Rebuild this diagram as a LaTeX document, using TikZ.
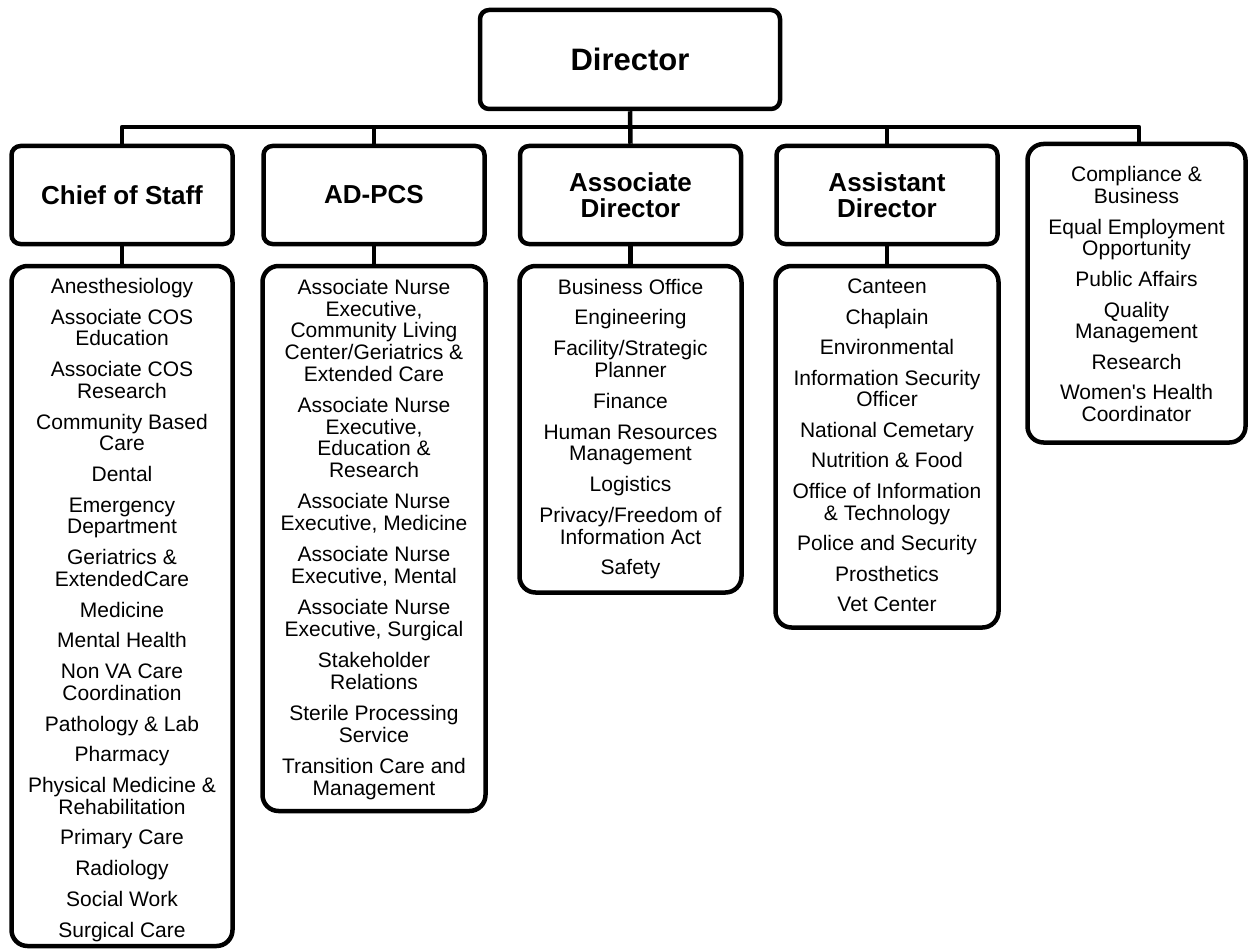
\documentclass[tikz,border=0pt]{standalone}
\usepackage{fontspec}
\setmainfont{Liberation Sans}
\newfontfamily\straightfont{Liberation Sans}
\begin{document}
\begin{tikzpicture}[x=1pt,y=-1pt,
  box/.style={draw, line width=4.5pt, rounded corners=9pt, inner sep=0pt, align=center},
  hdr/.style={box, minimum width=221pt, minimum height=98pt, font=\fontsize{26}{25.7}\selectfont\bfseries},
  lstbox/.style={draw, line width=4.5pt, rounded corners=16pt, inner sep=0pt},
  txt/.style={inner sep=0pt, anchor=base, font=\fontsize{21}{21.7}\selectfont},
  conn/.style={line width=4.5pt, line join=round}]
\useasboundingbox (0,0) rectangle (1249,952);

% top
\node[box, minimum width=300pt, minimum height=99pt, font=\fontsize{31}{32}\selectfont\bfseries] (dir) at (630,59.5) {Director};

% headers
\node[hdr] (cos) at (122,195) {Chief of Staff};
\node[hdr] (adpcs) at (374,195) {AD-PCS};
\node[hdr] (adir) at (630.5,195) {Associate\\Director};
\node[hdr] (asdir) at (887,195) {Assistant\\Director};

% list boxes
\node[lstbox, minimum width=221pt, minimum height=680pt] (cosL) at (122,606) {};
\node[lstbox, minimum width=223pt, minimum height=545pt] (adpcsL) at (374,538.5) {};
\node[lstbox, minimum width=222pt, minimum height=326.5pt] (adirL) at (630.5,429.25) {};
\node[lstbox, minimum width=223pt, minimum height=361.5pt] (asdirL) at (887,446.75) {};
\node[lstbox, minimum width=218pt, minimum height=298.5pt] (comp) at (1136.5,293.25) {};

% list texts
\node[txt] (cosT) at (122,293.5) {\begin{tabular}[t]{@{}c@{}}
Anesthesiology\\[9pt]
Associate COS\\ Education\\[9pt]
Associate COS\\ Research\\[9pt]
Community Based\\ Care\\[9pt]
Dental\\[9pt]
Emergency\\ Department\\[9pt]
Geriatrics \&\\ ExtendedCare\\[9pt]
Medicine\\[9pt]
Mental Health\\[9pt]
Non VA Care\\ Coordination\\[9pt]
Pathology \& Lab\\[9pt]
Pharmacy\\[9pt]
Physical Medicine \&\\ Rehabilitation\\[9pt]
Primary Care\\[9pt]
Radiology\\[9pt]
Social Work\\[9pt]
Surgical Care
\end{tabular}};

\node[txt] (adpcsT) at (374,294.3) {\begin{tabular}[t]{@{}c@{}}
Associate Nurse\\ Executive,\\ Community Living\\ Center/Geriatrics \&\\ Extended Care\\[9.5pt]
Associate Nurse\\ Executive,\\ Education \&\\ Research\\[9.5pt]
Associate Nurse\\ Executive, Medicine\\[9.5pt]
Associate Nurse\\ Executive, Mental\\[9.5pt]
Associate Nurse\\ Executive, Surgical\\[9.5pt]
Stakeholder\\ Relations\\[9.5pt]
Sterile Processing\\ Service\\[9.5pt]
Transition Care and\\ Management
\end{tabular}};

\node[txt] (adirT) at (630.5,294) {\begin{tabular}[t]{@{}c@{}}
Business Office\\[9.1pt]
Engineering\\[9.1pt]
Facility/Strategic\\ Planner\\[9.1pt]
Finance\\[9.1pt]
Human Resources\\ Management\\[9.1pt]
Logistics\\[9.1pt]
Privacy/Freedom of\\ Information Act\\[9.1pt]
Safety
\end{tabular}};

\node[txt] (asdirT) at (887,293.5) {\begin{tabular}[t]{@{}c@{}}
Canteen\\[8.8pt]
Chaplain\\[8.8pt]
Environmental\\[8.8pt]
Information Security\\ Officer\\[8.8pt]
National Cemetary\\[8.8pt]
Nutrition \& Food\\[8.8pt]
Office of Information\\ \& Technology\\[8.8pt]
Police and Security\\[8.8pt]
Prosthetics\\[8.8pt]
Vet Center
\end{tabular}};

\node[txt] (compT) at (1136.5,181.7) {\begin{tabular}[t]{@{}c@{}}
Compliance \&\\ Business\\[8.9pt]
Equal Employment\\ Opportunity\\[8.9pt]
Public Affairs\\[8.9pt]
Quality\\ Management\\[8.9pt]
Research\\[8.9pt]
Women{\straightfont'}s Health\\ Coordinator
\end{tabular}};

% connectors
\coordinate (busL) at (122,127);
\coordinate (busR) at (1139,127);
\draw[conn] (dir.south) -- (adir.north);
\draw[conn] (cos.north) -- (busL) -- (busR) -- (busR |- comp.north);
\draw[conn] (adpcs.north) -- (adpcs.north |- busL);
\draw[conn] (asdir.north) -- (asdir.north |- busL);
\draw[conn] (cos.south) -- (cosL.north);
\draw[conn] (adpcs.south) -- (adpcsL.north);
\draw[conn] (adir.south) -- (adirL.north);
\draw[conn] (asdir.south) -- (asdirL.north);
\end{tikzpicture}
\end{document}
